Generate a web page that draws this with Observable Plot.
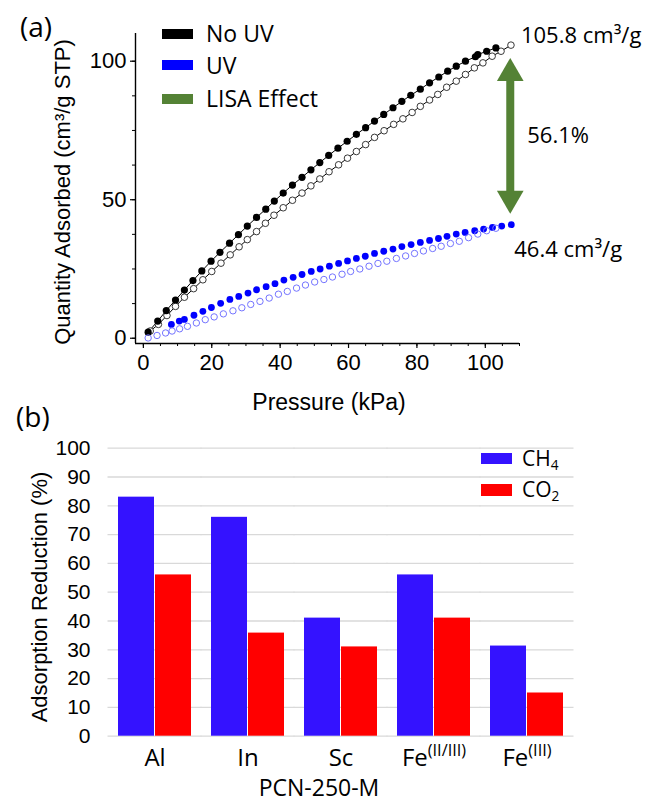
<!DOCTYPE html>
<html><head><meta charset="utf-8">
<script src="https://cdn.jsdelivr.net/npm/d3@7"></script>
<script src="https://cdn.jsdelivr.net/npm/@observablehq/plot@0.6"></script>
<style>
body{margin:0;background:#fff;}
#fig{position:relative;width:654px;height:802px;overflow:hidden;background:#fff;color:#000;}
.t{position:absolute;line-height:0;white-space:nowrap;font-family:'Open Sans',sans-serif;}
.sw{position:absolute;}
.rot{position:absolute;white-space:nowrap;line-height:1;font-family:'Liberation Sans',Arial,sans-serif;transform:translate(-50%,-50%) rotate(-90deg);}
.ctr{position:absolute;white-space:nowrap;line-height:1;font-family:'Liberation Sans',Arial,sans-serif;transform:translate(-50%,-50%);}
sub{font-size:0.65em;vertical-align:-0.3em;line-height:0;}
</style></head><body><div id="fig"></div>
<script>
// ---------- (a) isotherm data (Pressure kPa, Quantity cm3/g STP) ----------
const noUvAdsP = [1.4,4.2,6.7,9.4,12.0,14.5,17.1,19.8,22.4,25.2,27.8,30.4,33.1,35.8,38.3,40.9,43.6,46.4,49.0,51.6,54.2,56.9,59.6,62.3,65.0,67.6,70.3,73.0,75.6,78.2,81.0,83.7,86.4,89.0,91.5,94.2,97.1,97.8,100.4,103.1];
const noUvAdsQ = [2.2,6.2,10.0,13.8,17.4,20.8,24.3,27.8,31.0,34.3,37.4,40.5,43.6,46.6,49.5,52.4,55.3,58.1,60.8,63.4,66.0,68.6,71.1,73.6,76.0,78.4,80.8,83.2,85.5,87.7,89.9,92.2,94.3,96.4,98.2,100.0,101.6,102.4,103.6,104.8];
const noUvDesP = [107.5,104.6,102.0,99.3,96.8,94.2,91.5,88.7,86.1,83.7,81.0,78.6,75.9,73.2,70.4,67.6,65.0,62.3,59.7,57.1,54.3,51.6,49.0,46.4,43.6,40.9,38.2,35.7,33.1,30.4,28.0,25.4,22.7,20.0,17.4,14.7,12.0,9.4,6.9,4.4,2.0];
const noUvDesQ = [105.8,103.6,101.8,99.4,97.6,95.2,92.8,90.6,88.0,86.0,83.7,81.5,79.2,77.2,74.9,72.5,69.9,67.4,65.0,62.6,60.1,57.5,55.0,52.4,49.8,47.1,44.4,41.5,38.5,35.6,33.0,30.1,27.1,24.1,21.1,17.9,14.8,11.5,8.2,5.0,2.6];
const uvAdsP = [8.2,10.5,12.0,14.8,17.4,19.9,22.6,25.3,27.9,30.6,33.1,35.9,38.5,41.1,43.8,46.4,49.1,51.7,54.4,57.1,59.7,62.3,64.9,67.6,70.3,73.0,75.6,78.3,81.0,83.7,86.3,88.8,91.5,94.1,96.9,99.5,102.1,104.8,107.6];
const uvAdsQ = [5.0,6.2,6.8,8.3,9.7,11.1,12.6,14.0,15.1,16.3,17.5,18.6,19.7,21.0,22.0,23.0,24.1,25.0,26.0,27.0,27.9,28.8,29.6,30.6,31.4,32.2,33.1,33.8,34.6,35.3,36.0,36.8,37.6,38.2,38.8,39.4,40.0,40.5,41.0];
const uvDesP = [103.1,100.4,97.8,95.1,92.4,89.8,87.1,84.6,81.9,79.3,76.7,74.0,71.2,68.6,66.0,63.3,60.6,58.1,55.3,52.8,50.1,47.4,44.8,42.1,39.5,36.8,34.1,31.4,28.8,26.2,23.4,20.7,18.1,15.5,12.9,10.6,8.4,6.5,4.0,1.4];
const uvDesQ = [39.7,38.8,37.6,36.3,35.0,34.2,33.2,32.4,31.5,30.6,29.7,28.8,27.8,27.0,26.0,25.0,24.1,23.1,22.1,21.2,20.3,19.2,18.1,16.9,15.9,14.5,13.3,12.2,11.0,9.9,8.8,7.7,6.7,5.5,4.3,3.4,2.6,1.9,1.0,0.1];
const xDomainA = [-2.3, 110];
const yDomainA = [-1.9, 110];
const xTicksMajor = [0,20,40,60,80,100];
const xTicksMinor = [0,5,10,15,20,25,30,35,40,45,50,55,60,65,70,75,80,85,90,95,100,105,110];
const yTicksMajor = [0,50,100];
const yTicksMinor = [0,12.5,25,37.5,50,62.5,75,87.5,100];
const arrowX = [107.3], arrowTop = [101.2], arrowBottom = [44.9];
const labelHigh = "105.8 cm³/g", labelLow = "46.4 cm³/g", labelPct = "56.1%";

// ---------- (b) bar data ----------
const materials = ["Al", "In", "Sc", "Fe(II/III)", "Fe(III)"];
const gases = ["CH4", "CO2"];
const ch4Reduction = [83, 76, 41, 56, 31.3];
const co2Reduction = [56, 35.8, 31, 41, 15];
const yTicksB = [0,10,20,30,40,50,60,70,80,90,100];

const fontAx = "'Liberation Sans', Arial, sans-serif";
const fontCal = "'Open Sans', sans-serif";
const green = "#548235";
const blueBar = "#3412ff";
const idx = a => a.map((_, i) => i);

const fig = document.getElementById("fig");

const plotA = Plot.plot({
  width: 654, height: 415,
  marginLeft: 135, marginRight: 135, marginTop: 33, marginBottom: 72,
  x: {domain: xDomainA},
  y: {domain: yDomainA},
  style: {fontFamily: fontAx, background: "transparent", color: "black", overflow: "visible"},
  marks: [
    Plot.ruleX([xDomainA[0]], {stroke: "black", strokeWidth: 1.4}),
    Plot.ruleY([yDomainA[0]], {stroke: "black", strokeWidth: 1.4}),
    Plot.axisX({ticks: xTicksMinor, tickSize: 3, tickFormat: () => "", label: null, strokeWidth: 1}),
    Plot.axisX({ticks: xTicksMajor, tickSize: 5, tickPadding: 6, fontSize: 22, label: null, strokeWidth: 1.2}),
    Plot.axisY({ticks: yTicksMinor, tickSize: 3, tickFormat: () => "", label: null, strokeWidth: 1}),
    Plot.axisY({ticks: yTicksMajor, tickSize: 5, tickPadding: 4, fontSize: 22, label: null, strokeWidth: 1.2}),
    Plot.line(idx(noUvDesP), {x: noUvDesP, y: noUvDesQ, stroke: "black", strokeWidth: 1}),
    Plot.line(idx(noUvAdsP), {x: noUvAdsP, y: noUvAdsQ, stroke: "black", strokeWidth: 1}),
    Plot.dot(idx(noUvDesP), {x: noUvDesP, y: noUvDesQ, r: 3.3, fill: "white", stroke: "#222", strokeWidth: 0.9}),
    Plot.dot(idx(noUvAdsP), {x: noUvAdsP, y: noUvAdsQ, r: 3.6, fill: "black"}),
    Plot.dot(idx(uvAdsP), {x: uvAdsP, y: uvAdsQ, r: 3.4, fill: "#0000ff"}),
    Plot.dot(idx(uvDesP), {x: uvDesP, y: uvDesQ, r: 3.2, fill: "none", stroke: "#7474ff", strokeWidth: 1}),
    Plot.ruleX(arrowX, {x: arrowX, y1: arrowTop, y2: arrowBottom, stroke: green, strokeWidth: 8, insetTop: 20, insetBottom: 20}),
    Plot.dot(arrowX, {x: arrowX, y: arrowTop, symbol: "triangle", r: 9.9, fill: green, dy: 15.4}),
    Plot.dot(arrowX, {x: arrowX, y: arrowBottom, symbol: "triangle", r: 9.9, fill: green, rotate: 180, dy: -15.4}),
    Plot.text([labelHigh], {x: [noUvDesP[0]], y: [noUvDesQ[0]], text: d => d, textAnchor: "start", dx: 10, dy: -9, fontSize: 22, fontFamily: fontCal, fill: "black"}),
    Plot.text([labelPct], {x: arrowX, y: [(arrowTop[0] + arrowBottom[0]) / 2], text: d => d, textAnchor: "start", dx: 17, fontSize: 22, fontFamily: fontCal, fill: "black"}),
    Plot.text([labelLow], {x: [uvAdsP[uvAdsP.length - 1]], y: [uvAdsQ[uvAdsQ.length - 1]], text: d => d, textAnchor: "start", dx: 3, dy: 25, fontSize: 22, fontFamily: fontCal, fill: "black"})
  ]
});
plotA.style.position = "absolute"; plotA.style.left = "0px"; plotA.style.top = "0px";
fig.appendChild(plotA);

const table = materials.flatMap((m, i) => [
  {m, g: gases[0], v: ch4Reduction[i]},
  {m, g: gases[1], v: co2Reduction[i]}
]);

const plotB = Plot.plot({
  width: 654, height: 387,
  marginLeft: 108, marginRight: 80, marginTop: 32.7, marginBottom: 66.3,
  fx: {domain: materials, paddingInner: 0.21, paddingOuter: 0.11, label: null},
  x: {domain: gases, axis: null, paddingInner: 0.03, paddingOuter: 0},
  y: {domain: [0, 100]},
  color: {domain: gases, range: [blueBar, "#ff0000"]},
  style: {fontFamily: fontAx, background: "transparent", color: "black", overflow: "visible"},
  marks: [
    Plot.ruleY(yTicksB, {stroke: "#d9d9d9", strokeWidth: 1.3, insetLeft: -10.5, insetRight: -10.5}),
    Plot.barY(table, {fx: "m", x: "g", y: "v", fill: "g"}),
    Plot.axisY({ticks: yTicksB, tickSize: 0, tickPadding: 28, fontSize: 21, label: null}),
    Plot.axisFx({anchor: "bottom", tickSize: 0, tickPadding: 13, fontSize: 24, fontFamily: fontCal, label: null})
  ]
});
plotB.style.position = "absolute"; plotB.style.left = "0px"; plotB.style.top = "415px";
fig.appendChild(plotB);

// superscript oxidation states in Fe tick labels
d3.select(plotB).selectAll("text").each(function() {
  const t = this.textContent;
  const m = t.match(/^(Fe)(\(.+\))$/);
  if (m && this.childElementCount === 0) {
    const sel = d3.select(this);
    sel.text(m[1]);
    sel.append("tspan").attr("font-size", "0.68em").attr("dy", "-0.6em").text(m[2]);
  }
});

// ---------- HTML overlay text: panel labels, legends, axis titles ----------
function add(html, cls, css) {
  const d = document.createElement("div");
  d.className = cls; d.innerHTML = html;
  Object.assign(d.style, css);
  fig.appendChild(d);
  return d;
}
function swatch(color, left, top, w, h) {
  add("", "sw", {left: left + "px", top: top + "px", width: w + "px", height: h + "px", background: color});
}
add("(a)", "t", {left: "20px", top: "26px", fontSize: "28px"});
add("(b)", "t", {left: "16px", top: "416px", fontSize: "28px"});

const legendA = [["No UV", "#000000"], ["UV", "#0000ff"], ["LISA Effect", green]];
legendA.forEach(([name, c], i) => {
  const cy = [33.7, 65.3, 98.7][i];
  swatch(c, 162, cy - 5, 31, 10);
  add(name, "t", {left: "206px", top: (cy - 0.7) + "px", fontSize: "23px"});
});
const legendB = [["CH<sub>4</sub>", blueBar], ["CO<sub>2</sub>", "#ff0000"]];
legendB.forEach(([name, c], i) => {
  const cy = [458.3, 490][i];
  swatch(c, 481, cy - 5.7, 31, 11.4);
  add(name, "t", {left: "522px", top: (cy - 0.7) + "px", fontSize: "21px"});
});

add("Quantity Adsorbed (cm³/g STP)", "rot", {left: "63px", top: "192px", fontSize: "22px"});
add("Pressure (kPa)", "ctr", {left: "329px", top: "402px", fontSize: "23px"});
add("Adsorption Reduction (%)", "rot", {left: "40px", top: "597px", fontSize: "22px"});
add("PCN-250-M", "ctr", {left: "319px", top: "787px", fontSize: "23px", fontFamily: "'Open Sans', sans-serif"});
</script></body></html>
